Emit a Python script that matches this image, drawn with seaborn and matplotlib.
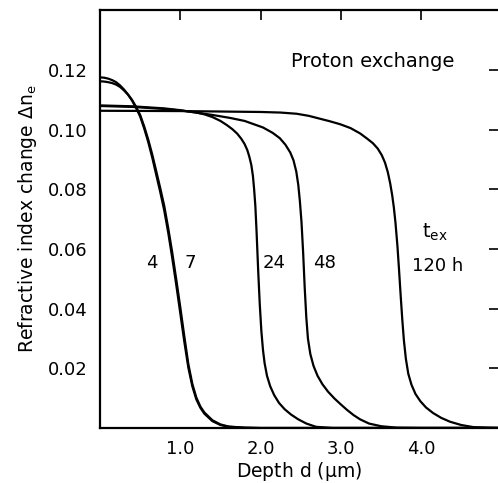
import numpy as np
import pandas as pd
import matplotlib
matplotlib.use("Agg")
import matplotlib.pyplot as plt
import seaborn as sns

# ---- data ----
d_4h = [0.0, 0.05, 0.1, 0.15, 0.2, 0.25, 0.3, 0.35, 0.4, 0.45, 0.5, 0.55, 0.6, 0.65, 0.7, 0.75, 0.8, 0.85, 0.9,
        0.95, 1.0, 1.05, 1.1, 1.15, 1.2, 1.25, 1.3, 1.4, 1.5, 1.6, 1.8, 2.0, 5.0]
n_4h = [0.1176, 0.1175, 0.1172, 0.1167, 0.1160, 0.1149, 0.1135, 0.1118, 0.1098, 0.1073, 0.1045, 0.1005, 0.0960,
        0.0908, 0.0850, 0.0792, 0.0730, 0.0655, 0.0570, 0.0480, 0.0385, 0.0290, 0.0203, 0.0140, 0.0096, 0.0068,
        0.0048, 0.0023, 0.0010, 0.0004, 0.0001, 0.0, 0.0]

d_7h = [0.0, 0.05, 0.1, 0.15, 0.2, 0.25, 0.3, 0.35, 0.4, 0.45, 0.5, 0.55, 0.6, 0.65, 0.7, 0.75, 0.8, 0.85, 0.9,
        0.95, 1.0, 1.05, 1.1, 1.15, 1.2, 1.25, 1.3, 1.4, 1.5, 1.6, 1.8, 2.0, 5.0]
n_7h = [0.1163, 0.1162, 0.1160, 0.1157, 0.1152, 0.1144, 0.1132, 0.1118, 0.1100, 0.1077, 0.1050, 0.1012, 0.0968,
        0.0918, 0.0862, 0.0805, 0.0745, 0.0670, 0.0588, 0.0498, 0.0405, 0.0308, 0.0215, 0.0148, 0.0102, 0.0072,
        0.0052, 0.0026, 0.0012, 0.0005, 0.0001, 0.0, 0.0]

d_24h = [0.0, 0.4, 0.8, 1.0, 1.2, 1.3, 1.4, 1.5, 1.58, 1.65, 1.71, 1.76, 1.80, 1.835, 1.86, 1.885, 1.905, 1.92,
         1.935, 1.95, 1.97, 1.99, 2.01, 2.03, 2.05, 2.08, 2.12, 2.17, 2.23, 2.3, 2.38, 2.47, 2.57, 2.69, 2.9, 5.0]
n_24h = [0.1082, 0.1079, 0.1072, 0.1066, 0.1058, 0.1052, 0.1043, 0.1030, 0.1016, 0.1002, 0.0987, 0.0970, 0.0953,
         0.0932, 0.0910, 0.0882, 0.0845, 0.0800, 0.0745, 0.0660, 0.0530, 0.0415, 0.0325, 0.0262, 0.0218, 0.0175,
         0.0140, 0.0110, 0.0084, 0.0063, 0.0045, 0.0029, 0.0015, 0.0004, 0.0, 0.0]

d_48h = [0.0, 0.4, 0.8, 1.0, 1.2, 1.4, 1.62, 1.8, 2.03, 2.15, 2.24, 2.31, 2.37, 2.41, 2.445, 2.47, 2.49, 2.51,
         2.53, 2.55, 2.57, 2.59, 2.62, 2.66, 2.71, 2.77, 2.84, 2.92, 3.0, 3.08, 3.16, 3.24, 3.35, 3.5, 3.7, 4.0, 5.0]
n_48h = [0.1080, 0.1077, 0.1070, 0.1065, 0.1058, 0.1050, 0.1040, 0.1030, 0.1008, 0.0990, 0.0972, 0.0950, 0.0924,
         0.0898, 0.0860, 0.0815, 0.0760, 0.0690, 0.0590, 0.0470, 0.0370, 0.0300, 0.0248, 0.0208, 0.0175, 0.0147,
         0.0122, 0.0099, 0.0079, 0.0060, 0.0043, 0.0029, 0.0015, 0.0006, 0.0001, 0.0, 0.0]

d_120h = [0.0, 1.0, 2.0, 2.25, 2.45, 2.6, 2.73, 2.86, 2.99, 3.12, 3.24, 3.33, 3.40, 3.46, 3.51, 3.55, 3.585, 3.615,
          3.64, 3.66, 3.68, 3.705, 3.725, 3.745, 3.765, 3.785, 3.81, 3.84, 3.88, 3.93, 3.99, 4.06, 4.15, 4.25, 4.36,
          4.5, 4.65, 4.85, 5.0]
n_120h = [0.1064, 0.1063, 0.1060, 0.1058, 0.1054, 0.1047, 0.1038, 0.1029, 0.1019, 0.1006, 0.0988, 0.0970, 0.0955,
          0.0937, 0.0915, 0.0890, 0.0858, 0.0820, 0.0780, 0.0740, 0.0690, 0.0610, 0.0530, 0.0445, 0.0365, 0.0295,
          0.0232, 0.0182, 0.0145, 0.0114, 0.0090, 0.0069, 0.0050, 0.0034, 0.0021, 0.0010, 0.0003, 0.0001, 0.0]

series = {"4": (d_4h, n_4h), "7": (d_7h, n_7h), "24": (d_24h, n_24h),
          "48": (d_48h, n_48h), "120": (d_120h, n_120h)}

x_ticks = [1.0, 2.0, 3.0, 4.0]
x_ticklabels = ["1.0", "2.0", "3.0", "4.0"]
y_ticks = [0.02, 0.04, 0.06, 0.08, 0.10, 0.12]
y_ticklabels = ["0.02", "0.04", "0.06", "0.08", "0.10", "0.12"]

frames = []
for name, (d, n) in series.items():
    frames.append(pd.DataFrame({"depth": d, "dn": n, "t": name}))
df = pd.concat(frames, ignore_index=True)

# ---- style ----
sns.set_theme(style="white")
plt.rcParams["font.family"] = ["DejaVu Sans"]
plt.rcParams["mathtext.default"] = "regular"
plt.rcParams["text.color"] = "black"
plt.rcParams["axes.labelcolor"] = "black"
plt.rcParams["lines.solid_joinstyle"] = "round"

fig = plt.figure(figsize=(4.98, 4.83), dpi=100)
ax = fig.add_axes([100 / 498, 55 / 483, 399 / 498, 418 / 483])

sns.lineplot(data=df, x="depth", y="dn", hue="t", units="t", estimator=None, sort=False,
             palette=["black"] * 5, linewidth=1.6, legend=False, ax=ax)

ax.set_xlim(0, 4.97)
ax.set_ylim(0, 0.1402)
ax.set_xticks(x_ticks)
ax.set_xticklabels(x_ticklabels)
ax.set_yticks(y_ticks)
ax.set_yticklabels(y_ticklabels)
ax.tick_params(direction="in", length=7, width=1.2, top=True, right=True,
               labelsize=13, colors="black", pad=9)
for s in ax.spines.values():
    s.set_visible(True)
    s.set_color("black")
    s.set_linewidth(1.6)

ax.set_xlabel(r"Depth d ($\mu$m)", fontsize=13.5, labelpad=1)
ax.set_ylabel(r"Refractive index change $\Delta n_e$", fontsize=13.5, labelpad=6)

ax.text(3.40, 0.123, "Proton exchange", fontsize=14, ha="center", va="center")
ax.text(0.64, 0.0555, "4", fontsize=13, ha="center", va="center")
ax.text(1.12, 0.0555, "7", fontsize=13, ha="center", va="center")
ax.text(2.17, 0.0555, "24", fontsize=13, ha="center", va="center")
ax.text(2.80, 0.0555, "48", fontsize=13, ha="center", va="center")
ax.text(4.17, 0.0655, "$t_{ex}$", fontsize=14, ha="center", va="center")
ax.text(4.21, 0.0545, "120 h", fontsize=13, ha="center", va="center")

fig.savefig("out.png", dpi=100)
